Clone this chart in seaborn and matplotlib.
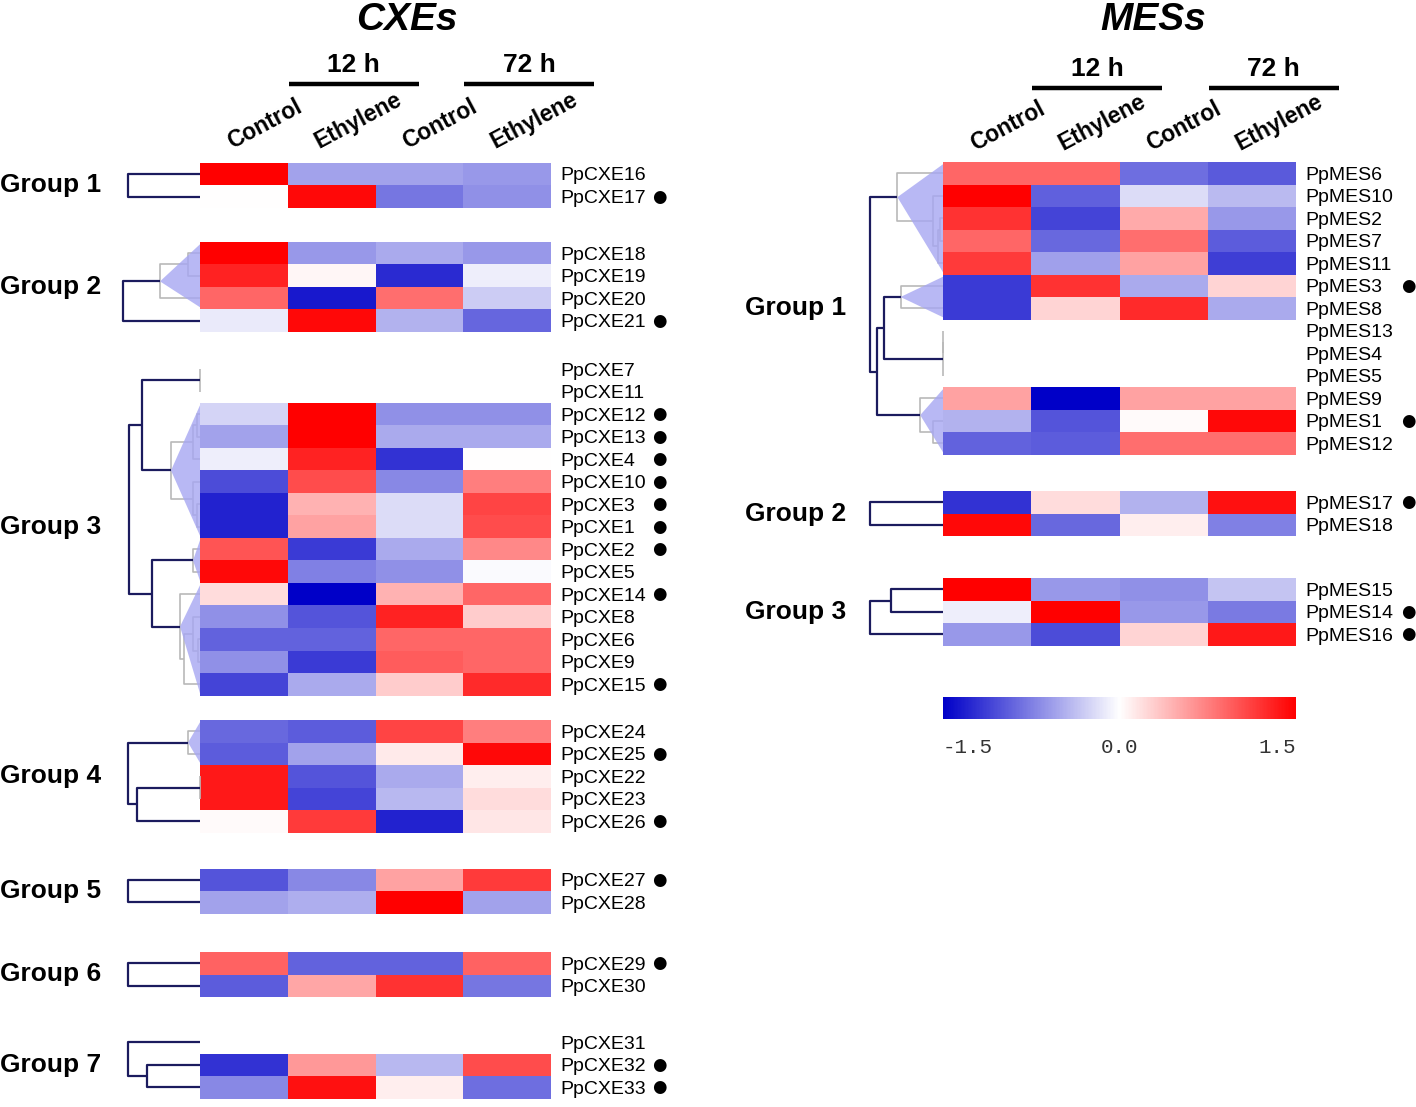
import numpy as np
import pandas as pd
import matplotlib
matplotlib.use("Agg")
import matplotlib.pyplot as plt
from matplotlib.colors import LinearSegmentedColormap
from matplotlib.patches import Polygon
import seaborn as sns

sns.set_theme(style="white")
plt.rcParams["font.family"] = ["Liberation Sans", "DejaVu Sans"]
plt.rcParams["text.color"] = "black"
plt.rcParams["ytick.color"] = "black"

nan = np.nan
samples = ["Control", "Ethylene", "Control", "Ethylene"]
timepoints = ["12 h", "72 h"]

# ---- CXEs ----
cxe_g1_genes = ["PpCXE16", "PpCXE17"]
cxe_g1_vals = [[1.5, -0.55, -0.55, -0.6],
               [0.0, 1.45, -0.8, -0.65]]
cxe_g1_tree = [(0, 1, 72, False)]

cxe_g2_genes = ["PpCXE18", "PpCXE19", "PpCXE20", "PpCXE21"]
cxe_g2_vals = [[1.5, -0.6, -0.5, -0.6],
               [1.3, 0.05, -1.25, -0.1],
               [0.9, -1.35, 0.85, -0.3],
               [-0.12, 1.45, -0.45, -0.9]]
cxe_g2_tree = [(0, 1, 12, False), (4, 2, 40, True), (5, 3, 77, False)]

cxe_g3_genes = ["PpCXE7", "PpCXE11", "PpCXE12", "PpCXE13", "PpCXE4", "PpCXE10",
                "PpCXE3", "PpCXE1", "PpCXE2", "PpCXE5", "PpCXE14", "PpCXE8",
                "PpCXE6", "PpCXE9", "PpCXE15"]
cxe_g3_vals = [[nan, nan, nan, nan],
               [nan, nan, nan, nan],
               [-0.25, 1.5, -0.65, -0.65],
               [-0.55, 1.5, -0.5, -0.5],
               [-0.1, 1.3, -1.2, 0.0],
               [-1.05, 1.05, -0.7, 0.75],
               [-1.3, 0.45, -0.2, 1.1],
               [-1.3, 0.55, -0.2, 1.05],
               [1.0, -1.15, -0.5, 0.7],
               [1.45, -0.75, -0.65, -0.03],
               [0.2, -1.5, 0.45, 0.9],
               [-0.65, -1.0, 1.3, 0.3],
               [-0.92, -0.92, 0.9, 0.9],
               [-0.65, -1.15, 0.95, 0.9],
               [-1.1, -0.5, 0.3, 1.25]]
cxe_g3_tree = [(0, 1, 0, True), (2, 3, 3, False), (16, 4, 7, False),
               (6, 7, 3, False), (5, 18, 7, False), (17, 19, 29, True),
               (15, 20, 58, False), (8, 9, 7, True), (12, 13, 2, False),
               (11, 23, 7, False), (24, 14, 16, False), (10, 25, 20, True),
               (22, 26, 48, False), (21, 27, 71.5, False)]

cxe_g4_genes = ["PpCXE24", "PpCXE25", "PpCXE22", "PpCXE23", "PpCXE26"]
cxe_g4_vals = [[-0.88, -0.95, 1.1, 0.75],
               [-0.95, -0.55, 0.12, 1.45],
               [1.35, -1.0, -0.5, 0.1],
               [1.35, -1.1, -0.42, 0.2],
               [0.03, 1.15, -1.3, 0.15]]
cxe_g4_tree = [(0, 1, 12, True), (2, 3, 0, True), (6, 4, 63.5, False), (5, 7, 72, False)]

cxe_g5_genes = ["PpCXE27", "PpCXE28"]
cxe_g5_vals = [[-1.0, -0.7, 0.55, 1.15],
               [-0.55, -0.48, 1.5, -0.55]]
cxe_g5_tree = [(0, 1, 72, False)]

cxe_g6_genes = ["PpCXE29", "PpCXE30"]
cxe_g6_vals = [[0.92, -0.92, -0.92, 0.92],
               [-0.95, 0.52, 1.2, -0.8]]
cxe_g6_tree = [(0, 1, 72, False)]

cxe_g7_genes = ["PpCXE31", "PpCXE32", "PpCXE33"]
cxe_g7_vals = [[nan, nan, nan, nan],
               [-1.2, 0.6, -0.42, 1.05],
               [-0.7, 1.4, 0.1, -0.85]]
cxe_g7_tree = [(1, 2, 53, False), (0, 3, 72, False)]

# ---- MESs ----
mes_g1_genes = ["PpMES6", "PpMES10", "PpMES2", "PpMES7", "PpMES11", "PpMES3",
                "PpMES8", "PpMES13", "PpMES4", "PpMES5", "PpMES9", "PpMES1", "PpMES12"]
mes_g1_vals = [[0.9, 0.9, -0.85, -0.97],
               [1.5, -0.93, -0.2, -0.4],
               [1.2, -1.1, 0.5, -0.6],
               [0.9, -0.88, 0.85, -0.95],
               [1.15, -0.56, 0.55, -1.13],
               [-1.15, 1.2, -0.5, 0.25],
               [-1.15, 0.25, 1.25, -0.5],
               [nan, nan, nan, nan],
               [nan, nan, nan, nan],
               [nan, nan, nan, nan],
               [0.55, -1.5, 0.55, 0.55],
               [-0.45, -1.0, 0.03, 1.45],
               [-0.92, -0.95, 0.85, 0.85]]
mes_g1_tree = [(2, 3, 3, False), (13, 4, 5, False), (1, 14, 10, False),
               (0, 15, 45.6, True), (5, 6, 42.5, True), (7, 8, 0, False),
               (18, 9, 0, True), (11, 12, 10, False), (10, 20, 22.8, True),
               (17, 19, 58.8, False), (22, 21, 65.8, False), (16, 23, 73, False)]

mes_g2_genes = ["PpMES17", "PpMES18"]
mes_g2_vals = [[-1.2, 0.2, -0.45, 1.4],
               [1.45, -0.88, 0.1, -0.75]]
mes_g2_tree = [(0, 1, 73, False)]

mes_g3_genes = ["PpMES15", "PpMES14", "PpMES16"]
mes_g3_vals = [[1.5, -0.6, -0.65, -0.35],
               [-0.1, 1.5, -0.6, -0.78],
               [-0.6, -1.05, 0.25, 1.35]]
mes_g3_tree = [(0, 1, 52, False), (3, 2, 73, False)]

marked = ["PpCXE17", "PpCXE21", "PpCXE12", "PpCXE13", "PpCXE4", "PpCXE10", "PpCXE3",
          "PpCXE1", "PpCXE2", "PpCXE14", "PpCXE15", "PpCXE25", "PpCXE26", "PpCXE27",
          "PpCXE29", "PpCXE32", "PpCXE33", "PpMES3", "PpMES1", "PpMES17", "PpMES14",
          "PpMES16"]

cbar_ticks = [-1.5, 0.0, 1.5]

# ---- layout ----
W, H = 1416, 1107
ROW = 22.5
NAVY = "#1b1b5e"
GRAY = "#b9b9b9"
TRI = "#a7a7f2"
cmap = LinearSegmentedColormap.from_list("expr", ["#0000c8", "#ffffff", "#ff0000"])

fig = plt.figure(figsize=(W / 100, H / 100), dpi=100)


def px_axes(x, y, w, h):
    return fig.add_axes([x / W, 1 - (y + h) / H, w / W, h / H])


def ftext(x, y, s, **kw):
    return fig.text(x / W, 1 - y / H, s, **kw)


def draw_tree(ax, links, n):
    ys = [i + 0.5 for i in range(n)]
    hs = [0.0] * n
    members = [[i] for i in range(n)]
    for a, b, h, _ in links:
        ys.append((ys[a] + ys[b]) / 2)
        hs.append(h)
        members.append(members[a] + members[b])
    gray = [False] * (n + len(links))
    for k in range(len(links) - 1, -1, -1):
        a, b, h, col = links[k]
        node = n + k
        gray[node] = gray[node] or col
        for c in (a, b):
            gray[c] = gray[c] or gray[node]
    for k, (a, b, h, col) in enumerate(links):
        node = n + k
        color = GRAY if gray[node] else NAVY
        lw = 1.2 if gray[node] else 1.6
        ax.plot([hs[a], h, h, hs[b]], [ys[a], ys[a], ys[b], ys[b]],
                color=color, lw=lw, solid_capstyle="butt", clip_on=False, zorder=2)
    for k, (a, b, h, col) in enumerate(links):
        node = n + k
        parent_gray = any(gray[n + j] and (links[j][0] == node or links[j][1] == node)
                          for j in range(len(links)))
        if col and not parent_gray and h > 0:
            lo, hi = min(members[node]), max(members[node]) + 1
            ax.add_patch(Polygon([(h, ys[node]), (0, lo + 0.1), (0, hi - 0.1)],
                                 closed=True, facecolor=TRI, edgecolor="none",
                                 alpha=0.8, zorder=3, clip_on=False))
    ax.set_xlim(80, 0)
    ax.set_ylim(n, 0)
    ax.axis("off")


panels = [
    dict(title="CXEs", title_x=407, hm_left=200, hm_right=551, dot_x=659, glabel_x=0,
         head_y=65, line_y=84, col_dy=0,
         groups=[(cxe_g1_genes, cxe_g1_vals, cxe_g1_tree, 162.75),
                 (cxe_g2_genes, cxe_g2_vals, cxe_g2_tree, 242),
                 (cxe_g3_genes, cxe_g3_vals, cxe_g3_tree, 358),
                 (cxe_g4_genes, cxe_g4_vals, cxe_g4_tree, 720),
                 (cxe_g5_genes, cxe_g5_vals, cxe_g5_tree, 868.5),
                 (cxe_g6_genes, cxe_g6_vals, cxe_g6_tree, 952),
                 (cxe_g7_genes, cxe_g7_vals, cxe_g7_tree, 1031)]),
    dict(title="MESs", title_x=1153, hm_left=943, hm_right=1296, dot_x=1408, glabel_x=745,
         head_y=69, line_y=88, col_dy=3,
         groups=[(mes_g1_genes, mes_g1_vals, mes_g1_tree, 162),
                 (mes_g2_genes, mes_g2_vals, mes_g2_tree, 491),
                 (mes_g3_genes, mes_g3_vals, mes_g3_tree, 578)]),
]

label_font = ["Liberation Sans Narrow", "Liberation Sans", "DejaVu Sans"]
mesh = None
for p in panels:
    left, right = p["hm_left"], p["hm_right"]
    width = right - left
    colw = width / len(samples)
    centers = [left + colw * (i + 0.5) for i in range(len(samples))]
    for gi, (genes, vals, tree, top) in enumerate(p["groups"]):
        n = len(genes)
        df = pd.DataFrame(vals, index=genes, columns=samples)
        ax = px_axes(left, top, width, n * ROW)
        sns.heatmap(df, ax=ax, cmap=cmap, vmin=-1.5, vmax=1.5, cbar=False,
                    xticklabels=False, yticklabels=genes)
        mesh = ax.collections[0]
        ax.yaxis.tick_right()
        ax.set_yticklabels(genes, rotation=0, fontsize=14, fontfamily=label_font)
        ax.tick_params(axis="y", length=0, pad=6.5)
        ax.set_ylabel("")
        for i, g in enumerate(genes):
            if g in marked:
                ax.text((p["dot_x"] - left) / width, i + 0.5, "\u25cf", fontsize=12,
                        ha="center", va="center", color="black",
                        transform=ax.get_yaxis_transform(), clip_on=False,
                        fontfamily=["DejaVu Sans"])
        dax = px_axes(left - 80, top, 80, n * ROW)
        draw_tree(dax, tree, n)
        ftext(p["glabel_x"], top + n * ROW / 2, "Group %d" % (gi + 1), fontsize=19,
              fontweight="bold", ha="left", va="center")

    top0 = p["groups"][0][3]
    for c, s in zip(centers, samples):
        ftext(c - 12, top0 - 14 + p["col_dy"], s, rotation=28, rotation_mode="anchor",
              ha="left", va="baseline", fontsize=16.5, fontweight="bold")
    for k, t in enumerate(timepoints):
        pc = (centers[2 * k] + centers[2 * k + 1]) / 2 + 66
        ftext(pc, p["head_y"], t, ha="center", va="center", fontsize=19, fontweight="bold")
        fig.add_artist(plt.Line2D([(pc - 65) / W, (pc + 65) / W],
                                  [1 - p["line_y"] / H, 1 - p["line_y"] / H],
                                  color="black", lw=3.2, solid_capstyle="butt"))
    ftext(p["title_x"], 20, p["title"], ha="center", va="center", fontsize=28,
          fontweight="bold", fontstyle="italic")

# colour bar
cax = px_axes(943, 697, 353, 22)
cb = fig.colorbar(mesh, cax=cax, orientation="horizontal")
cb.outline.set_visible(False)
cb.set_ticks(cbar_ticks)
cb.set_ticklabels(["%.1f" % t for t in cbar_ticks])
cax.tick_params(axis="x", length=0, pad=14, labelsize=15)
tl = cax.get_xticklabels()
for lab, ha in zip(tl, ["left", "center", "right"]):
    lab.set_ha(ha)
    lab.set_fontfamily(["Liberation Mono", "DejaVu Sans Mono"])
    lab.set_color("#333333")

fig.savefig("out.png", dpi=100, facecolor="white")
